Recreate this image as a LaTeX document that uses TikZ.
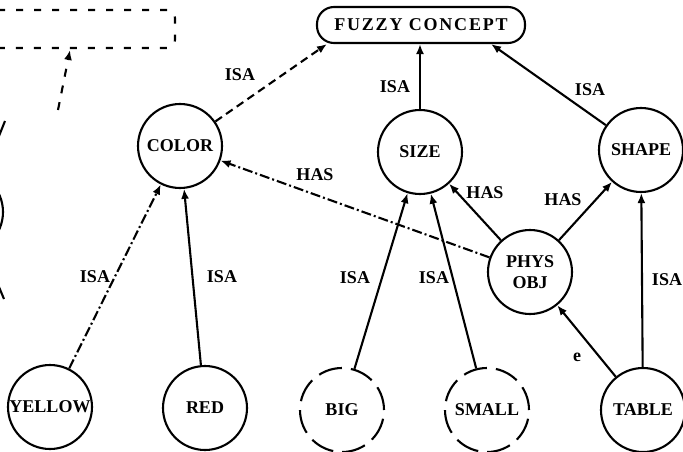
\documentclass[tikz,border=0pt]{standalone}
\usepackage{fontspec}
\setmainfont{Liberation Serif}
\usetikzlibrary{arrows.meta}
\begin{document}
\begin{tikzpicture}[x=1pt,y=-1pt,
  lw/.style={line width=2.1pt},
  txt/.style={font=\fontsize{18}{21}\selectfont\bfseries},
  cnode/.style={circle,draw,lw,minimum size=84pt,inner sep=0pt,txt},
  dnode/.style={cnode,dash pattern=on 24pt off 9pt},
  lab/.style={txt,inner sep=0pt},
  arr/.style={lw,-{Latex[length=10pt,width=8pt]}},
  dashline/.style={dash pattern=on 8pt off 5pt},
  dashdot/.style={dash pattern=on 10pt off 3pt on 2pt off 3pt},
]
\useasboundingbox (0,0) rectangle (683,452);
\clip (0,0) rectangle (683,452);

% nodes
\node[draw,lw,rounded corners=17pt,minimum width=208pt,minimum height=36pt,txt] (fuzzy) at (421,25) {\addfontfeature{LetterSpace=10}FUZZY CONCEPT};
\node[cnode] (color) at (180,146) {COLOR};
\node[cnode] (size) at (420,152) {SIZE};
\node[cnode] (shape) at (641,150) {SHAPE};
\node[cnode,align=center] (phys) at (530,272) {PHYS\\OBJ};
\node[cnode] (yellow) at (50,407) {YELLOW};
\node[cnode] (red) at (205,408) {RED};
\node[dnode] (big) at (342,410) {BIG};
\node[dnode] (small) at (487,410) {SMALL};
\node[cnode] (table) at (643,410) {TABLE};

% connectors
\draw[arr,dashline] (color) -- ([xshift=11pt]fuzzy.south west);
\draw[arr] (size) -- (size |- fuzzy.south);
\draw[arr] (shape) -- ([xshift=-35pt]fuzzy.south east);
\draw[arr,dashdot] (phys) -- (color);
\draw[arr] (phys) -- (size);
\draw[arr] (phys) -- (shape);
\draw[arr] (table) -- (shape);
\draw[arr] (table) -- (phys);
\draw[arr,dashdot] (yellow) -- (color);
\draw[arr] (red) -- (color);
\draw[arr] (big) -- (size);
\draw[arr] (small) -- (size);

% labels
\node[lab] (l1) at (240,75) {ISA};
\node[lab] (l2) at (395,87) {ISA};
\node[lab] (l3) at (590,90) {ISA};
\node[lab] (l4) at (315,175) {HAS};
\node[lab] (l5) at (485,193) {HAS};
\node[lab] (l6) at (563,200) {HAS};
\node[lab] (l7) at (95,277) {ISA};
\node[lab] (l8) at (222,277) {ISA};
\node[lab] (l9) at (355,278) {ISA};
\node[lab] (l10) at (434,278) {ISA};
\node[lab] (l11) at (667,280) {ISA};
\node[lab] (l12) at (577,357) {e};

% cut-off parts at the left edge
\draw[lw,dash pattern=on 7pt off 11pt,rounded corners=8pt] (-20,10) -- (175,10) -- (175,48) -- (-20,48);
\coordinate (lb0) at (58,110);
\coordinate (lb1) at (70,50);
\draw[arr,dash pattern=on 8pt off 9pt] (lb0) -- (lb1);
\draw[lw] (-39,212) circle[radius=42pt];
\draw[lw] (-3,141) -- (5,121);
\draw[lw] (-1,287) -- (4,299);
\end{tikzpicture}
\end{document}
